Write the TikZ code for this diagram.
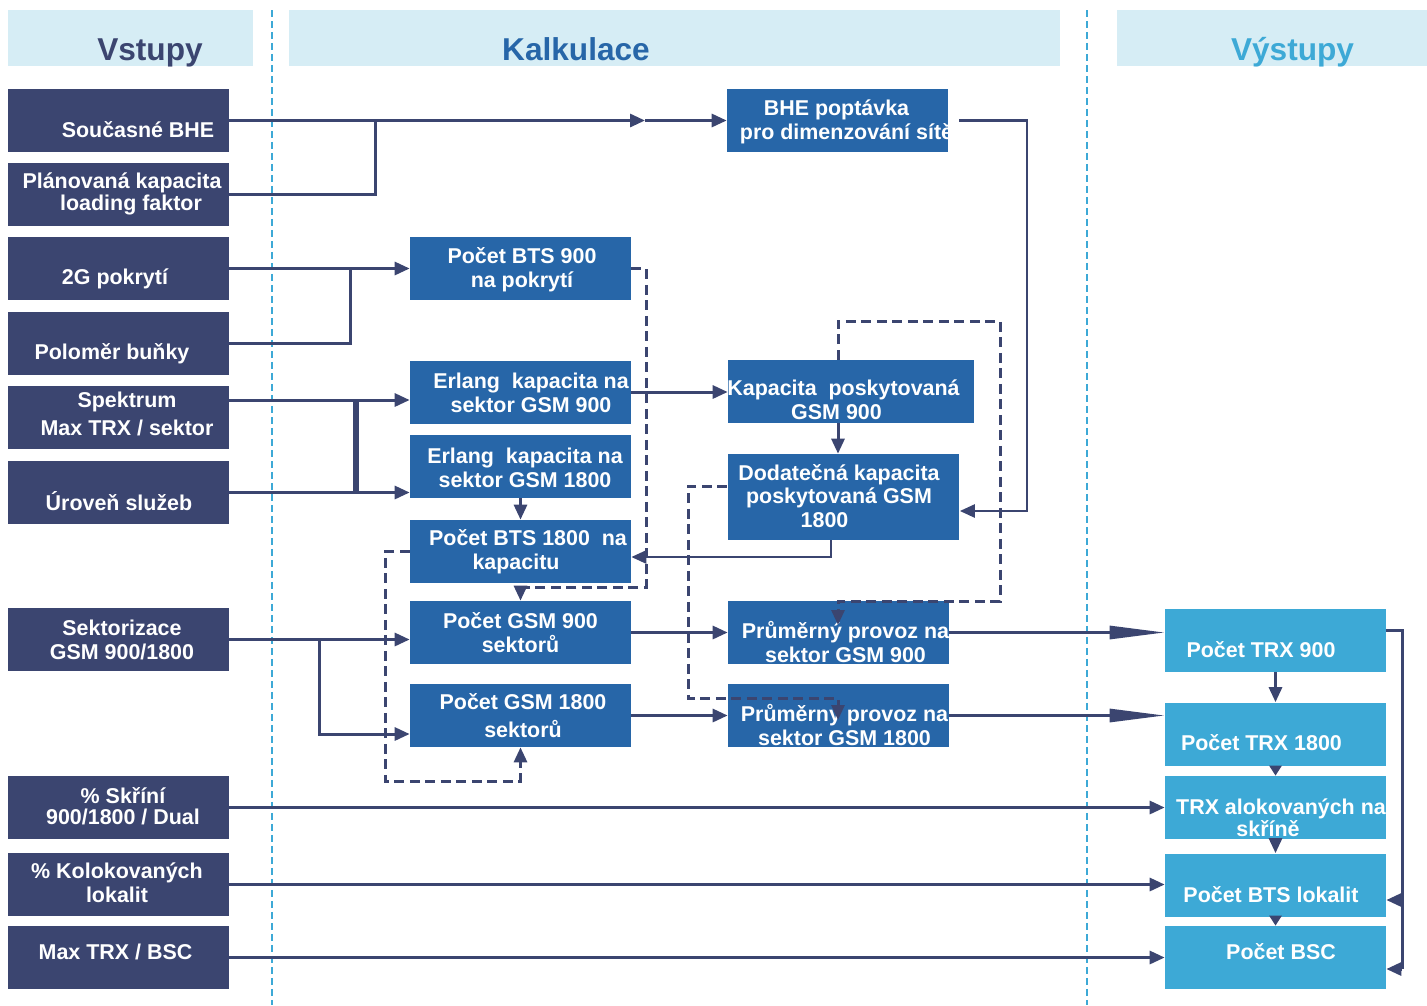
\documentclass[tikz,border=0pt]{standalone}
\usepackage{fontspec}
\setmainfont{Liberation Sans}
\usetikzlibrary{arrows.meta}
\definecolor{navy}{RGB}{59,69,112}
\definecolor{midblue}{RGB}{39,102,168}
\definecolor{skyblue}{RGB}{61,169,214}
\definecolor{headbg}{RGB}{214,237,245}
\newcommand{\boxfont}{\bfseries\fontsize{12.2}{13.6}\selectfont}
\newcommand{\headfont}{\bfseries\fontsize{18}{20}\selectfont}
\tikzset{
	box/.style={rectangle, inner sep=0pt, minimum width=4.42cm, minimum height=1.26cm},
	inbox/.style={box, fill=navy},
	calcbox/.style={box, fill=midblue},
	outbox/.style={box, fill=skyblue},
	headbox/.style={rectangle, inner sep=0pt, minimum height=1.12cm, fill=headbg},
	txt/.style={text=white, font=\boxfont, align=center, inner sep=0pt},
	headtxt/.style={font=\headfont, inner sep=0pt},
	link/.style={draw=navy, line width=0.06cm},
	flow/.style={link, -{Triangle[length=0.3cm, width=0.26cm]}}, % normal arrow
	stubflow/.style={link, -{Triangle[length=0.2cm, width=0.24cm]}},
	longflow/.style={link, -{Triangle[length=1.1cm, width=0.26cm]}},
	thinflow/.style={flow, line width=0.05cm},
	dflow/.style={flow, dash pattern=on 0.2cm off 0.11cm},
	divider/.style={draw=skyblue, line width=0.05cm, dash pattern=on 0.14cm off 0.08cm},
}
\begin{document}
\begin{tikzpicture}[x=0.02cm, y=-0.02cm]
	\useasboundingbox (0,0) rectangle (1427,1005);

	% header bands
	\node[headbox, minimum width=4.9cm, label={[headtxt, text=navy, shift={(19.5,15)}]center:Vstupy}] (hin) at (130.5,38) {};
	\node[headbox, minimum width=15.42cm, label={[headtxt, text=midblue, shift={(-98.5,11)}]center:Kalkulace}] (hcalc) at (674.5,38) {};
	\node[headbox, minimum width=6.2cm, label={[headtxt, text=skyblue, shift={(20.5,14)}]center:Výstupy}] (hout) at (1272,38) {};

	\draw[divider] (272,10) -- (272,1005);
	\draw[divider] (1087,10) -- (1087,1005);

	% inputs
	\node[inbox, label={[txt, shift={(19.5,9.5)}]center:Současné BHE}] (bhe) at (118.5,120.5) {};
	\node[inbox, label={[txt, shift={(3.5,-0.5)}]center:{Plánovaná kapacita\\[-1pt]\makebox[0.36cm]{}loading faktor}}] (plan) at (118.5,194.5) {};
	\node[inbox, label={[txt, shift={(-3.5,10.5)}]center:2G pokrytí}] (cov) at (118.5,268.5) {};
	\node[inbox, label={[txt, shift={(-6.5,10.5)}]center:Poloměr buňky}] (rad) at (118.5,343.5) {};
	\node[inbox, label={[txt, shift={(8.5,-3.5)}]center:{Spektrum\\[2pt]Max TRX / sektor}}] (spek) at (118.5,417.5) {};
	\node[inbox, label={[txt, shift={(0.5,9)}]center:Úroveň služeb}] (gos) at (118.5,492.5) {};
	\node[inbox, label={[txt, shift={(3.5,0.5)}]center:{Sektorizace\\GSM 900/1800}}] (sect) at (118.5,639.5) {};
	\node[inbox, label={[txt, shift={(4.5,-1)}]center:{\% Skříní\\[-1.5pt]900/1800 / Dual}}] (cab) at (118.5,807.5) {};
	\node[inbox, label={[txt, shift={(-1.5,-1.5)}]center:{\% Kolokovaných\\lokalit}}] (colo) at (118.5,884.5) {};
	\node[inbox, label={[txt, shift={(-3,-5.5)}]center:Max TRX / BSC}] (maxbsc) at (118.5,957.5) {};

	% calculation
	\node[calcbox, label={[txt, shift={(9,1.5)}]center:{BHE poptávka\makebox[0.4cm]{}\\pro dimenzování sítě}}] (dem) at (837.5,120.5) {};
	\node[calcbox, label={[txt, shift={(1.5,1.5)}]center:{Počet BTS 900\\na pokrytí}}] (bts9) at (520.5,268.5) {};
	\node[calcbox, label={[txt, shift={(10.5,1)}]center:{Erlang~~kapacita na\\sektor GSM 900}}] (erl9) at (520.5,392) {};
	\node[calcbox, label={[txt, shift={(4.5,1.5)}]center:{Erlang~~kapacita na\\sektor GSM 1800}}] (erl18) at (520.5,466.5) {};
	\node[calcbox, label={[txt, shift={(7.5,0)}]center:{Počet BTS 1800~~na\\kapacitu\makebox[0.48cm]{}}}] (bts18) at (520.5,551.5) {};
	\node[calcbox, label={[txt]center:{Počet GSM 900\\sektorů}}] (gsm9) at (520.5,632.5) {};
	\node[calcbox, label={[txt, shift={(2.5,0)}]center:{Počet GSM 1800\\[2.7pt]sektorů}}] (gsm18) at (520.5,715.5) {};
	\node[calcbox, minimum width=4.92cm, label={[txt, shift={(-7.5,8.5)}]center:{Kapacita~~poskytovaná\\GSM 900\makebox[0.28cm]{}}}] (cap9) at (851,391.5) {};
	\node[calcbox, minimum width=4.64cm, minimum height=1.72cm, label={[txt, shift={(-4.5,-1)}]center:{Dodatečná kapacita\\poskytovaná GSM\\1800\makebox[0.58cm]{}}}] (cap18) at (843.5,497) {};
	\node[calcbox, label={[txt, shift={(7,9.5)}]center:{Průměrný provoz na\\sektor GSM 900}}] (tr9) at (838.5,632.5) {};
	\node[calcbox, label={[txt, shift={(6,9.5)}]center:{Průměrný provoz na\\sektor GSM 1800}}] (tr18) at (838.5,715.5) {};

	% outputs
	\node[outbox, label={[txt, shift={(-14.5,10)}]center:Počet TRX 900}] (trx9) at (1275.5,640) {};
	\node[outbox, label={[txt, shift={(-14,9)}]center:Počet TRX 1800}] (trx18) at (1275.5,734) {};
	\node[outbox, label={[txt, shift={(5.5,10)}]center:{TRX alokovaných na\\[-1pt]skříně\makebox[0.52cm]{}}}] (alloc) at (1275.5,807.5) {};
	\node[outbox, label={[txt, shift={(-4.5,10)}]center:Počet BTS lokalit}] (sites) at (1275.5,885) {};
	\node[outbox, label={[txt, shift={(5.5,-5.5)}]center:Počet BSC}] (bscs) at (1275.5,957.5) {};

	% junctions and bends
	\coordinate (j1) at (375,120.5);
	\coordinate (m1) at (645,120.5);
	\coordinate (j2) at (350,268.5);
	\coordinate (j3) at (356,400);
	\coordinate (j4) at (319,639.5);
	\coordinate (j5) at (319,734);
	\coordinate (kx) at (838,0);
	\coordinate (r1) at (1027,511);
	\coordinate (d1) at (831,557);
	\coordinate (d2) at (688,486);
	\coordinate (t1) at (838,625);
	\coordinate (t2) at (838,720);
	\coordinate (q1) at (1402,630);
	\coordinate (q2) at (1402,969);
	\coordinate (q3) at (1402,900);

	\draw[flow] (bhe.east) -- (m1);
	\draw[flow] (m1) -- (dem.west);
	\draw[link] (plan.east) -| (j1);
	\draw[flow] (cov.east) -- (bts9.west);
	\draw[link] (rad.east) -| (j2);
	\draw[flow] (spek.east |- j3) -- (erl9.west |- j3);
	\draw[flow] (gos.east) -- (erl18.west |- gos.east);
	\draw[link, line width=0.11cm] (j3) -- (j3 |- gos.east);
	\draw[flow] (erl9.east) -- (cap9.west |- erl9.east);
	\draw[flow] (erl18.south) -- (bts18.north);
	\draw[flow] (cap9.south -| kx) -- (cap18.north -| kx);
	\draw[thinflow] ([xshift=0.22cm]dem.east) -| (r1) -- (cap18.east |- r1);
	\draw[thinflow] (cap18.south -| d1) -- (d1) -- (bts18.east |- d1);

	% dashed feedbacks
	\draw[dflow] (bts9.east) -| (646,587) -| (gsm9.north);
	\draw[dflow] (cap9.north -| kx) |- (1000,321) |- (838,601) -- (t1);
	\draw[dflow] (cap18.west |- d2) -- (d2) |- (838,698) -- (t2);
	\draw[dflow] (bts18.west) -| (385,781) -| (gsm18.south);

	\draw[flow] (sect.east) -- (gsm9.west |- sect.east);
	\draw[flow] (j4) -- (j5) -- (gsm18.west |- j5);
	\draw[flow] (gsm9.east) -- (tr9.west);
	\draw[flow] (gsm18.east) -- (tr18.west);
	\draw[longflow] (tr9.east) -- (trx9.west |- tr9.east);
	\draw[longflow] (tr18.east) -- (trx18.west |- tr18.east);
	\draw[flow] (cab.east) -- (alloc.west);
	\draw[flow] (colo.east) -- (sites.west |- colo.east);
	\draw[flow] (maxbsc.east) -- (bscs.west);

	\draw[flow] (trx9.south) -- (trx18.north);
	\draw[stubflow] (trx18.south) -- (alloc.north);
	\draw[flow] (alloc.south) -- (sites.north);
	\draw[stubflow] (sites.south) -- (bscs.north);
	\draw[link] (trx9.east |- q1) -- (q1) -- (q2);
	\draw[flow] (q3) -- (sites.east |- q3);
	\draw[flow] (q2) -- (bscs.east |- q2);
\end{tikzpicture}
\end{document}
